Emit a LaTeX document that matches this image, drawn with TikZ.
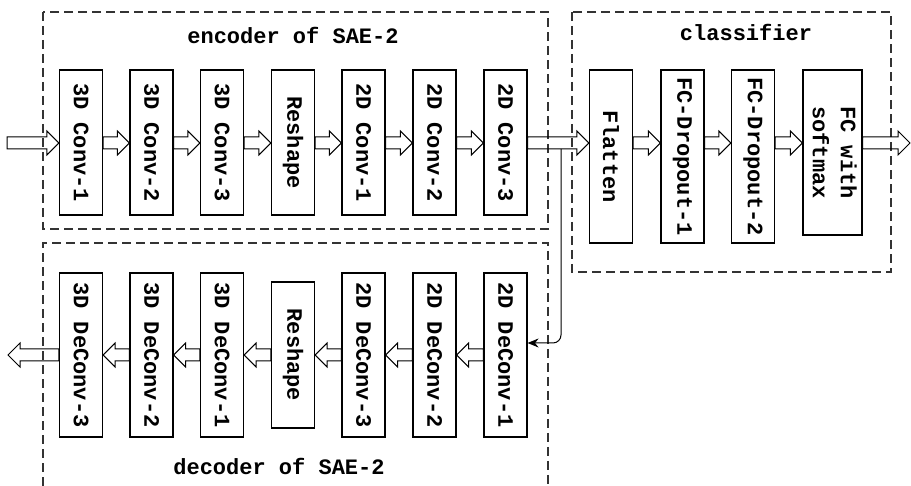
\documentclass[tikz,border=0pt]{standalone}
\usepackage{fontspec}
\setmainfont{Liberation Mono}
\usetikzlibrary{calc,arrows.meta}
\newcommand\harrow[2]{\draw[harrowstyle] let \p1=#1, \p2=#2, \n1={sign(\x2-\x1)} in
  (\x1,\y1+6pt) -- ({\x2-\n1*12pt},\y1+6pt) -- ({\x2-\n1*12pt},\y1+12pt) -- (\x2,\y1)
  -- ({\x2-\n1*12pt},\y1-12pt) -- ({\x2-\n1*12pt},\y1-6pt) -- (\x1,\y1-6pt) -- cycle;}
\begin{document}
\begin{tikzpicture}[x=1pt,y=1pt,
  blk/.style={draw, line width=1.2pt, minimum width=43pt, inner sep=0pt,
    font=\fontsize{22}{28}\selectfont\bfseries},
  grpbox/.style={draw=black!80, line width=1.1pt, dash pattern=on 9pt off 5pt},
  ttl/.style={font=\fontsize{22}{28}\selectfont\bfseries, inner sep=0pt},
  harrowstyle/.style={draw, line width=1pt, line join=miter},
  link/.style={draw, line width=1pt, rounded corners=8pt, -{Stealth[length=11pt,width=9pt]}}]
\useasboundingbox (0,0) rectangle (911,486);
% group frames
\draw[grpbox] (43,474) rectangle (548,257);
\draw[grpbox] (572,474) rectangle (891,214);
\draw[grpbox] (43,0) -- (43,243) -- (548,243) -- (548,0);
% titles
\node[ttl] (tenc) at (293,451) {encoder of SAE-2};
\node[ttl] (tcls) at (746,454) {classifier};
\node[ttl] (tdec) at (279,20) {decoder of SAE-2};
% encoder
\node[blk, minimum height=145pt] (e1) at (81,343.5) {\rotatebox{-90}{3D Conv-1}};
\node[blk, minimum height=145pt] (e2) at (151.5,343.5) {\rotatebox{-90}{3D Conv-2}};
\node[blk, minimum height=145pt] (e3) at (222,343.5) {\rotatebox{-90}{3D Conv-3}};
\node[blk, minimum height=145pt] (e4) at (293,343.5) {\rotatebox{-90}{Reshape}};
\node[blk, minimum height=145pt] (e5) at (363.5,343.5) {\rotatebox{-90}{2D Conv-1}};
\node[blk, minimum height=145pt] (e6) at (434.5,343.5) {\rotatebox{-90}{2D Conv-2}};
\node[blk, minimum height=145pt] (e7) at (505.5,343.5) {\rotatebox{-90}{2D Conv-3}};
% classifier
\node[blk, minimum height=173pt] (c1) at (611,329.5) {\rotatebox{-90}{Flatten}};
\node[blk, minimum height=173pt] (c2) at (682.5,329.5) {\rotatebox{-90}{FC-Dropout-1}};
\node[blk, minimum height=173pt] (c3) at (753,329.5) {\rotatebox{-90}{FC-Dropout-2}};
\node[blk, minimum height=165pt, minimum width=59pt] (c4) at (832.5,333.5)
  {\rotatebox{-90}{\begin{tabular}{@{}c@{}}FC with\\softmax\end{tabular}}};
% decoder
\node[blk, minimum height=164pt] (dA) at (81,131) {\rotatebox{-90}{3D DeConv-3}};
\node[blk, minimum height=164pt] (dB) at (151.5,131) {\rotatebox{-90}{3D DeConv-2}};
\node[blk, minimum height=164pt] (dC) at (222,131) {\rotatebox{-90}{3D DeConv-1}};
\node[blk, minimum height=146pt] (dD) at (293,131) {\rotatebox{-90}{Reshape}};
\node[blk, minimum height=164pt] (dE) at (363.5,131) {\rotatebox{-90}{2D DeConv-3}};
\node[blk, minimum height=164pt] (dF) at (434.5,131) {\rotatebox{-90}{2D DeConv-2}};
\node[blk, minimum height=164pt] (dG) at (505.5,131) {\rotatebox{-90}{2D DeConv-1}};
% helper coordinates
\coordinate (row) at (0,343);
\coordinate (inp) at (7,343);
\coordinate (outp) at (910,343);
\coordinate (decout) at (8,131);
\coordinate (br) at (561,337);
% encoder + classifier arrows
\harrow{(inp)}{(e1.west |- row)}
\harrow{(e1.east |- row)}{(e2.west |- row)}
\harrow{(e2.east |- row)}{(e3.west |- row)}
\harrow{(e3.east |- row)}{(e4.west |- row)}
\harrow{(e4.east |- row)}{(e5.west |- row)}
\harrow{(e5.east |- row)}{(e6.west |- row)}
\harrow{(e6.east |- row)}{(e7.west |- row)}
\harrow{(e7.east |- row)}{(c1.west |- row)}
\harrow{(c1.east |- row)}{(c2.west |- row)}
\harrow{(c2.east |- row)}{(c3.west |- row)}
\harrow{(c3.east |- row)}{(c4.west |- row)}
\harrow{(c4.east |- row)}{(outp)}
% decoder arrows
\harrow{(dG.west)}{(dF.east)}
\harrow{(dF.west)}{(dE.east)}
\harrow{(dE.west)}{(dD.east)}
\harrow{(dD.west)}{(dC.east)}
\harrow{(dC.west)}{(dB.east)}
\harrow{(dB.west)}{(dA.east)}
\harrow{(dA.west)}{(decout)}
% branch to decoder
\draw[link] (br) -- (br |- 0,143) -- (dG.east |- 0,143);
\end{tikzpicture}
\end{document}
